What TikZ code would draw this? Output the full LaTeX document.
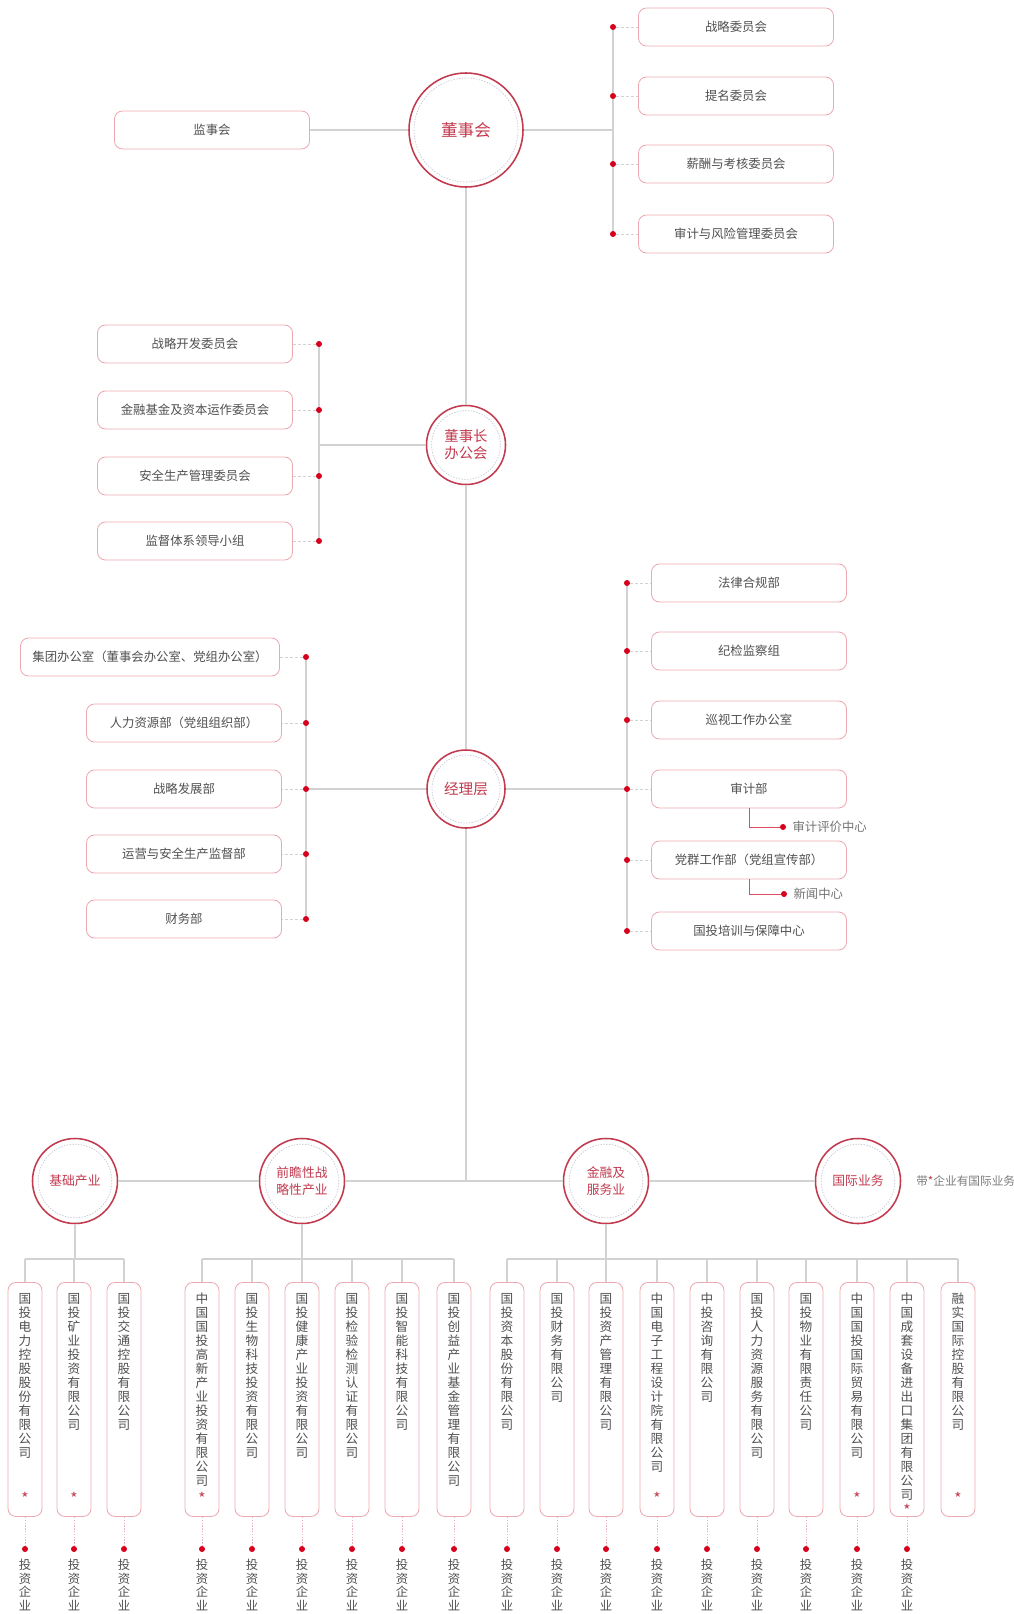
\documentclass[tikz,border=0pt]{standalone}
\usepackage{fontspec}
\setmainfont{Noto Sans CJK SC}
\usetikzlibrary{calc, positioning}

\definecolor{hubred}{HTML}{C23A4E}
\definecolor{boxpink}{HTML}{EDA9B2}
\definecolor{linegray}{HTML}{D2D2D2}
\definecolor{dotred}{HTML}{D6001C}
\definecolor{txtgray}{HTML}{505050}
\definecolor{ringgray}{HTML}{C4C9D4}

\makeatletter
\newcommand\vchars[1]{\edef\vc@tmp{#1}\expandafter\vc@loop\vc@tmp\relax}
\def\vc@loop#1{\ifx\relax#1\else\noindent#1\par\expandafter\vc@loop\fi}
\makeatother

\tikzset{
  unitbox/.style={draw=boxpink, line width=0.6pt, rounded corners=0.2cm, fill=white,
    minimum width=4.875cm, minimum height=0.95cm, text=txtgray, font=\fontsize{8.8}{10}\selectfont},
  hub/.style={circle, draw=hubred, line width=1.1pt, fill=white, text=hubred, align=center, inner sep=0pt},
  innerring/.style={ringgray, line width=0.5pt, dash pattern=on 1pt off 1pt},
  link/.style={linegray, line width=0.8pt},
  stub/.style={linegray, line width=0.5pt, dash pattern=on 2pt off 1.5pt},
  invline/.style={boxpink!70!linegray, line width=0.6pt, dash pattern=on 1pt off 1pt},
  subline/.style={dotred!70, line width=0.7pt},
  reddot/.style={circle, fill=dotred, inner sep=0pt, minimum size=0.15cm},
  colbox/.style={draw=boxpink, line width=0.6pt, rounded corners=0.2cm, fill=white,
    minimum width=0.85cm, minimum height=5.85cm, anchor=north},
  coltext/.style={anchor=north, text width=1em, align=center, inner sep=0pt, text=txtgray,
    font=\fontsize{9}{9.95}\selectfont},
  redstar/.style={text=hubred, font=\fontsize{11}{11}\selectfont, inner sep=0pt},
  subtext/.style={anchor=west, text=txtgray!80, font=\fontsize{8.8}{10}\selectfont, inner sep=0pt},
}

\begin{document}
\begin{tikzpicture}[x=0.025cm, y=-0.025cm]
\useasboundingbox (0,0) rectangle (1014,1614);

% board of directors and its committees
\node[hub, minimum size=2.85cm, font=\fontsize{11.8}{14}\selectfont] (board) at (466,130) {董事会};
\draw[innerring] (board) circle[radius=1.3cm];
\node[unitbox] (sup) at (212,130) {监事会};
\node[unitbox] (cmt1) at (736,27) {战略委员会};
\node[unitbox] (cmt2) at (736,96) {提名委员会};
\node[unitbox] (cmt3) at (736,164) {薪酬与考核委员会};
\node[unitbox] (cmt4) at (736,234) {审计与风险管理委员会};
\coordinate (cbus) at (613,130);
\draw[link] (sup) -- (board) -- (cbus);
\draw[link] (cmt1 -| cbus) -- (cmt4 -| cbus);
\foreach \k in {1,...,4}{
  \node[reddot] (cd\k) at (cmt\k -| cbus) {};
  \draw[stub] (cd\k) -- (cmt\k);
}

% chairman office
\node[hub, minimum size=1.975cm, font=\fontsize{10.2}{12}\selectfont] (chair) at (466,445) {董事长\\办公会};
\draw[innerring] (chair) circle[radius=0.86cm];
\node[unitbox] (com1) at (195,344) {战略开发委员会};
\node[unitbox] (com2) at (195,410) {金融基金及资本运作委员会};
\node[unitbox] (com3) at (195,476) {安全生产管理委员会};
\node[unitbox] (com4) at (195,541) {监督体系领导小组};
\coordinate (obus) at (319,445);
\draw[link] (chair) -- (obus);
\draw[link] (com1 -| obus) -- (com4 -| obus);
\foreach \k in {1,...,4}{
  \node[reddot] (od\k) at (com\k -| obus) {};
  \draw[stub] (od\k) -- (com\k);
}

% management
\node[hub, minimum size=1.95cm, font=\fontsize{10.4}{12}\selectfont] (mgmt) at (466,789) {经理层};
\draw[innerring] (mgmt) circle[radius=0.85cm];
\node[unitbox, minimum width=6.475cm] (dl1) at (150,657) {集团办公室（董事会办公室、党组办公室）};
\node[unitbox] (dl2) at (184,723) {人力资源部（党组组织部）};
\node[unitbox] (dl3) at (184,789) {战略发展部};
\node[unitbox] (dl4) at (184,854) {运营与安全生产监督部};
\node[unitbox] (dl5) at (184,919) {财务部};
\coordinate (lbus) at (306,789);
\draw[link] (mgmt) -- (lbus);
\draw[link] (dl1 -| lbus) -- (dl5 -| lbus);
\foreach \k in {1,...,5}{
  \node[reddot] (ld\k) at (dl\k -| lbus) {};
  \draw[stub] (ld\k) -- (dl\k);
}
\node[unitbox] (dr1) at (749,583) {法律合规部};
\node[unitbox] (dr2) at (749,651) {纪检监察组};
\node[unitbox] (dr3) at (749,720) {巡视工作办公室};
\node[unitbox] (dr4) at (749,789) {审计部};
\node[unitbox] (dr5) at (749,860) {党群工作部（党组宣传部）};
\node[unitbox] (dr6) at (749,931) {国投培训与保障中心};
\coordinate (rbus) at (627,789);
\draw[link] (mgmt) -- (rbus);
\draw[link] (dr1 -| rbus) -- (dr6 -| rbus);
\foreach \k in {1,...,6}{
  \node[reddot] (rd\k) at (dr\k -| rbus) {};
  \draw[stub] (rd\k) -- (dr\k);
}
\node[reddot] (sd1) at (783,827) {};
\node[subtext, right=0.15cm of sd1] (sub1) {审计评价中心};
\draw[subline] (dr4.south) |- (sd1);
\node[reddot] (sd2) at (784,894) {};
\node[subtext, right=0.15cm of sd2] (sub2) {新闻中心};
\draw[subline] (dr5.south) |- (sd2);

% business sectors
\coordinate (mbus) at (466,1181);
\node[hub, minimum size=2.125cm, font=\fontsize{9.1}{12}\selectfont] (base) at (75,1181) {基础产业};
\node[hub, minimum size=2.125cm, font=\fontsize{9.1}{12}\selectfont] (strat) at (302,1181) {前瞻性战\\略性产业};
\node[hub, minimum size=2.125cm, font=\fontsize{9.1}{12}\selectfont] (fin) at (606,1181) {金融及\\服务业};
\node[hub, minimum size=2.125cm, font=\fontsize{9.1}{12}\selectfont] (intl) at (858,1181) {国际业务};
\foreach \n in {base, strat, fin, intl} \draw[innerring] (\n) circle[radius=0.92cm];
\node[anchor=west, inner sep=0pt, text=txtgray!75, font=\fontsize{8.3}{9}\selectfont] (note) at (916,1181) {带\textcolor{hubred}{*}企业有国际业务};
\draw[link] (board) -- (chair) -- (mgmt) -- (mbus);
\draw[link] (base) -- (strat) -- (fin) -- (intl);

% companies
\foreach \x/\name/\sy/\inv [count=\i] in {
  25/国投电力控股股份有限公司/1498/1,
  74/国投矿业投资有限公司/1498/1,
  124/国投交通控股有限公司/0/1,
  202/中国国投高新产业投资有限公司/1498/1,
  252/国投生物科技投资有限公司/0/1,
  302/国投健康产业投资有限公司/0/1,
  352/国投检验检测认证有限公司/0/1,
  402/国投智能科技有限公司/0/1,
  454/国投创益产业基金管理有限公司/0/1,
  507/国投资本股份有限公司/0/1,
  557/国投财务有限公司/0/1,
  606/国投资产管理有限公司/0/1,
  657/中国电子工程设计院有限公司/1498/1,
  707/中投咨询有限公司/0/1,
  757/国投人力资源服务有限公司/0/1,
  806/国投物业有限责任公司/0/1,
  857/中国国投国际贸易有限公司/1498/1,
  907/中国成套设备进出口集团有限公司/1510/1,
  958/融实国际控股有限公司/1498/0}{
  \node[colbox] (col\i) at (\x,1282) {};
  \node[coltext] (name\i) at (\x,1293) {\vchars{\name}};
  \draw[link] (col\i.north) -- ++(0,-23);
  \ifnum\sy>0 \node[redstar] (star\i) at (\x,\sy) {*}; \fi
  \ifnum\inv=1
    \node[reddot] (inv\i) at (\x,1549) {};
    \draw[invline] (col\i) -- (inv\i);
    \node[coltext, font=\fontsize{8.8}{9.7}\selectfont] (invt\i) at (\x,1559) {\vchars{投资企业}};
  \fi
}
\coordinate (bar) at (0,1259);
\draw[link] (col1.north |- bar) -- (col3.north |- bar);
\draw[link] (col4.north |- bar) -- (col9.north |- bar);
\draw[link] (col10.north |- bar) -- (col19.north |- bar);
\draw[link] (base) -- (base |- bar);
\draw[link] (strat) -- (strat |- bar);
\draw[link] (fin) -- (fin |- bar);
\end{tikzpicture}
\end{document}
